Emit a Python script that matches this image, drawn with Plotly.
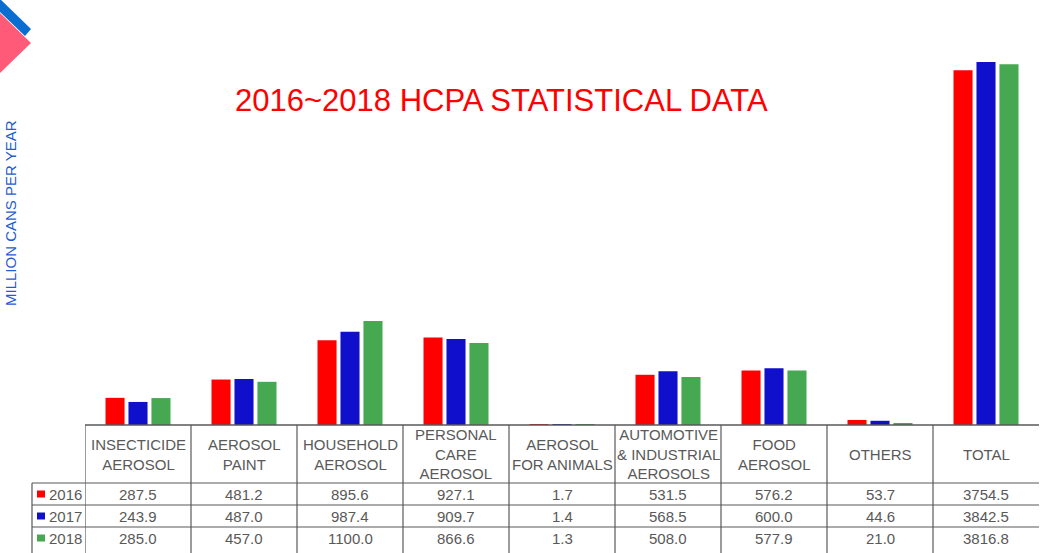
import plotly.graph_objects as go

categories = ["INSECTICIDE<br>AEROSOL", "AEROSOL<br>PAINT", "HOUSEHOLD<br>AEROSOL",
              "PERSONAL<br>CARE<br>AEROSOL", "AEROSOL<br>FOR ANIMALS",
              "AUTOMOTIVE<br>& INDUSTRIAL<br>AEROSOLS", "FOOD<br>AEROSOL", "OTHERS", "TOTAL"]
years = ["2016", "2017", "2018"]
values_2016 = [287.5, 481.2, 895.6, 927.1, 1.7, 531.5, 576.2, 53.7, 3754.5]
values_2017 = [243.9, 487.0, 987.4, 909.7, 1.4, 568.5, 600.0, 44.6, 3842.5]
values_2018 = [285.0, 457.0, 1100.0, 866.6, 1.3, 508.0, 577.9, 21.0, 3816.8]
series = [values_2016, values_2017, values_2018]
colors = ["#FF0000", "#1010CC", "#46A850"]

W, H = 1046, 553
L, R, T, B = 85, 1039, 47, 425  # plot area in pixels


def px(x):
    return (x - L) / (R - L)


def py(y):
    return (B - y) / (B - T)


fig = go.Figure()
for name, vals, col in zip(years, series, colors):
    fig.add_trace(go.Bar(x=categories, y=vals, name=name, marker_color=col,
                         marker_line_width=0, showlegend=False,
                         hoverinfo="x+y+name"))

line_col = "#595959"
txt_col = "#595959"
font_fam = "Liberation Sans, Arial, sans-serif"
shapes = []
annotations = []

# baseline / table top
shapes.append(dict(type="line", xref="paper", yref="paper", x0=0, x1=1,
                   y0=0, y1=0, line=dict(color=line_col, width=1.5)))
# vertical column separators
for i in range(len(categories)):
    shapes.append(dict(type="line", xref="x", yref="paper", x0=i - 0.5, x1=i - 0.5,
                       y0=0, y1=py(553), line=dict(color=line_col, width=1.2)))
# left edge of legend column
shapes.append(dict(type="line", xref="paper", yref="paper", x0=px(32), x1=px(32),
                   y0=py(483), y1=py(553), line=dict(color=line_col, width=1.2)))
# horizontal row lines
for yy in [483, 505, 527]:
    shapes.append(dict(type="line", xref="paper", yref="paper", x0=px(32), x1=1,
                       y0=py(yy), y1=py(yy), line=dict(color=line_col, width=1.2)))

# header labels
for c in categories:
    annotations.append(dict(x=c, xref="x", y=py(454), yref="paper", text=c,
                            showarrow=False, xanchor="center", yanchor="middle",
                            font=dict(size=15, color=txt_col, family=font_fam)))
# value rows
row_centers = [494, 516, 538]
for r, (name, vals, col) in enumerate(zip(years, series, colors)):
    yc = row_centers[r]
    for c, v in zip(categories, vals):
        annotations.append(dict(x=c, xref="x", y=py(yc), yref="paper", text=f"{v:.1f}",
                                showarrow=False, xanchor="center", yanchor="middle",
                                font=dict(size=15, color=txt_col, family=font_fam)))
    shapes.append(dict(type="rect", xref="paper", yref="paper", x0=px(37), x1=px(45),
                       y0=py(yc + 3.5), y1=py(yc - 3.5), fillcolor=col,
                       line=dict(width=0)))
    annotations.append(dict(x=px(46.5), xref="paper", y=py(yc), yref="paper", text=name,
                            showarrow=False, xanchor="left", yanchor="middle",
                            font=dict(size=15, color=txt_col, family=font_fam)))

# title
annotations.append(dict(x=px(501), xref="paper", y=py(100), yref="paper",
                        text="2016~2018 HCPA STATISTICAL DATA", showarrow=False,
                        xanchor="center", yanchor="middle",
                        font=dict(size=31, color="#FF0000", family=font_fam)))
# y-axis title
annotations.append(dict(x=px(10), xref="paper", y=py(213), yref="paper",
                        text="MILLION CANS PER YEAR", showarrow=False, textangle=-90,
                        xanchor="center", yanchor="middle",
                        font=dict(size=15, color="#1F5BD1", family=font_fam)))


def path(points):
    return "M " + " L ".join(f"{px(a)},{py(b)}" for a, b in points) + " Z"


# corner decoration
shapes.append(dict(type="path", xref="paper", yref="paper",
                   path=path([(-2, -3), (31, 29), (25, 36), (-2, 10)]),
                   fillcolor="#0A6ED1", line=dict(width=0)))
shapes.append(dict(type="path", xref="paper", yref="paper",
                   path=path([(-2, 11), (31, 43), (-2, 75)]),
                   fillcolor="#FF5A78", line=dict(width=0)))

fig.update_layout(
    width=W, height=H,
    margin=dict(l=L, r=W - R, t=T, b=H - B, pad=0),
    paper_bgcolor="white", plot_bgcolor="white",
    barmode="group", bargap=0.35, bargroupgap=0.17,
    xaxis=dict(type="category", range=[-0.5, len(categories) - 0.5],
               showticklabels=False, showgrid=False, zeroline=False, ticks="",
               showline=False, fixedrange=True),
    yaxis=dict(range=[0, 4000], visible=False, showgrid=False, zeroline=False,
               fixedrange=True),
    shapes=shapes, annotations=annotations,
    font=dict(family=font_fam),
)

fig.write_html("out.html", config={"displayModeBar": False},
               post_script="document.body.style.margin='0';document.body.style.overflow='hidden';")
